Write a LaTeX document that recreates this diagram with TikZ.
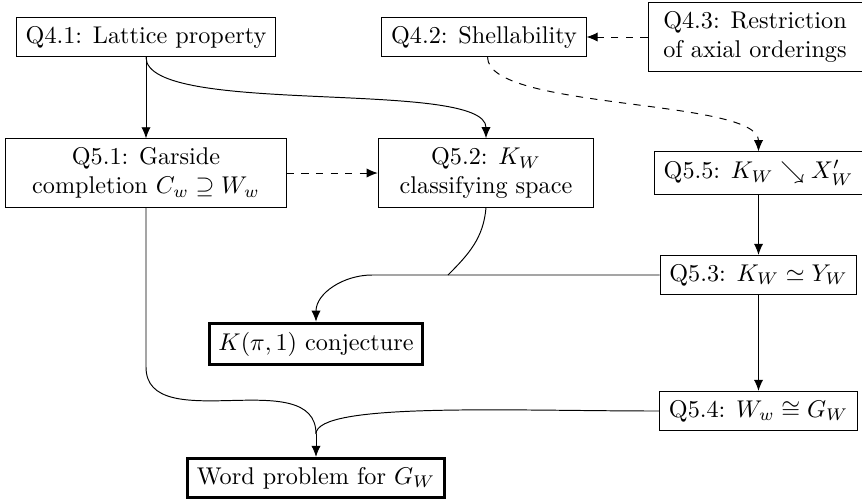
\documentclass[tikz,border=0pt]{standalone}
\usepackage{amsmath,amssymb}
\usetikzlibrary{arrows.meta}
\begin{document}
\begin{tikzpicture}[x=0.413pt, y=-0.413pt,
  qbox/.style={draw, line width=0.4pt, inner xsep=3.8pt, inner ysep=3.6pt, align=center},
  goal/.style={qbox, line width=1.2pt},
  arr/.style={-{Latex[length=4.6pt,width=3.8pt]}, line width=0.4pt},
  link/.style={line width=0.4pt},
  dasharr/.style={arr, dash pattern=on 3pt off 3pt}]
\useasboundingbox (0,0) rectangle (862,501);

% questions
\node[qbox] (q41) at (146,37)  {Q4.1: Lattice property};
\node[qbox] (q42) at (484,37)  {Q4.2: Shellability};
\node[qbox, minimum width=88.4pt] (q43) at (755,37) {Q4.3: Restriction\\of axial orderings};
\node[qbox, minimum width=116pt] (q51) at (146,173) {Q5.1: Garside\\completion $C_w \supseteq W_w$};
\node[qbox, minimum width=89pt] (q52) at (486,173) {Q5.2: $K_W$\\classifying space};
\node[qbox] (q55) at (758.5,173) {Q5.5: $K_W \searrow X'_W$};
\node[qbox] (q53) at (758.5,275) {Q5.3: $K_W \simeq Y_W$};
\node[qbox] (q54) at (758.5,411) {Q5.4: $W_w \cong G_W$};

% goals
\node[goal] (kp) at (316,344) {$K(\pi,1)$ conjecture};
\node[goal] (wp) at (316,478) {Word problem for $G_W$};

% junction points
\coordinate (jk)  at (372,275);
\coordinate (jm)  at (448,275);
\coordinate (jd)  at (146,367);
\coordinate (jw)  at (316,434);

% implications
\draw[arr] (q41.south) -- (q51.north);
\draw[arr] (q41.south) .. controls +(0,60) and +(0,-60) .. (q52.north);
\draw[dasharr] (q51.east) -- (q52.west);
\draw[dasharr] (q43.west) -- (q42.east);
\draw[dasharr] (q42.280) .. controls +(0,53) and +(0,-53) .. (q55.north);
\draw[arr] (q55.south) -- (q53.north);
\draw[arr] (q53.south) -- (q54.north);

% towards the K(pi,1) conjecture
\draw[arr] (q53.west) -- (jk) to[out=180,in=90] (kp.north);
\draw[link] (q52.south) to[out=-95,in=45] (jm);

% towards the word problem
\draw[link] (q51.south) -- (jd) .. controls +(0,71) and +(0,-71) .. (jw);
\draw[link] (q54.west) .. controls +(-150,0) and +(0,-32) .. (jw);
\draw[arr] (jw) -- (wp.north);
\end{tikzpicture}
\end{document}
